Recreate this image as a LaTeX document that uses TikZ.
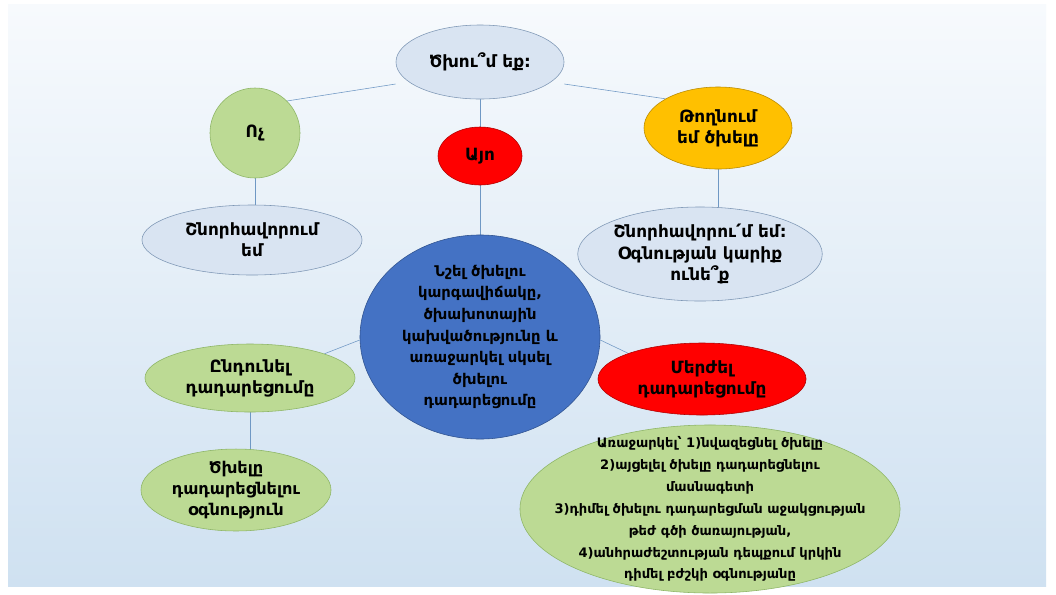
\documentclass[tikz,border=0pt]{standalone}
\usepackage{fontspec}
\setmainfont{DejaVu Sans}
\usepackage{tikz}
\usetikzlibrary{shapes.geometric,backgrounds}

\definecolor{bgtop}{HTML}{F7FAFD}
\definecolor{bgbot}{HTML}{CFE1F1}
\definecolor{paleblue}{HTML}{D9E4F2}
\definecolor{paleline}{HTML}{7E97B5}
\definecolor{leaf}{HTML}{BCDA94}
\definecolor{leafline}{HTML}{8DB565}
\definecolor{alarm}{HTML}{FF0000}
\definecolor{alarmline}{HTML}{B00000}
\definecolor{amber}{HTML}{FFC000}
\definecolor{amberline}{HTML}{B88A00}
\definecolor{deepblue}{HTML}{4472C4}
\definecolor{deepline}{HTML}{2F528F}
\definecolor{wire}{HTML}{6F98C4}

\begin{document}
\begin{tikzpicture}[x=0.025cm,y=-0.025cm,
  every node/.style={font=\bfseries\fontsize{12}{15}\selectfont, align=center, inner sep=0pt},
  oval/.style={ellipse, draw, thin},
  bluebox/.style={oval, fill=paleblue, draw=paleline},
  greenbox/.style={oval, fill=leaf, draw=leafline},
  redbox/.style={oval, fill=alarm, draw=alarmline},
  link/.style={wire, thin}]

\useasboundingbox (0,0) rectangle (1056,594);

% nodes
\node[bluebox, minimum width=4.2cm, minimum height=1.85cm] (ask) at (480,62) {Ծխու՞մ եք:};
\node[greenbox, circle, minimum size=2.25cm] (no) at (255,133) {Ոչ};
\node[redbox, minimum width=2.1cm, minimum height=1.45cm] (yes) at (480,156) {Այո};
\node[oval, fill=amber, draw=amberline, minimum width=3.7cm, minimum height=2.05cm] (quit) at (718,128) {Թողնում\\եմ ծխելը};

\node[bluebox, minimum width=5.5cm, minimum height=1.75cm] (congr) at (252,240) {Շնորհավորում\\եմ};
\node[bluebox, minimum width=6cm, minimum height=2.35cm] (help) at (700,254) {Շնորհավորու՛մ եմ:\\Օգնության կարիք\\ունե՞ք};

\node[oval, fill=deepblue, draw=deepline, minimum width=6cm, minimum height=5.1cm] (state) at (480,337) {};
\node[font=\bfseries\fontsize{10.5}{15.4}\selectfont] (statetext) at (state.center)
  {Նշել ծխելու\\կարգավիճակը,\\ծխախոտային\\կախվածությունը և\\առաջարկել սկսել\\ծխելու\\դադարեցումը};

\node[greenbox, minimum width=5.25cm, minimum height=1.7cm] (accept) at (250,378) {Ընդունել\\դադարեցումը};
\node[redbox, minimum width=5.2cm, minimum height=1.8cm] (reject) at (702,379) {Մերժել\\դադարեցումը};
\node[greenbox, minimum width=4.75cm, minimum height=1.85cm, font=\bfseries\fontsize{11.5}{15}\selectfont] (aid) at (236,490) {Ծխելը\\դադարեցնելու\\օգնություն};

\node[greenbox, minimum width=9.5cm, minimum height=4.2cm] (offer) at (710,509) {};
\node[font=\bfseries\fontsize{9.3}{15.6}\selectfont] (offertext) at (offer.center)
  {Առաջարկել՝ 1)նվազեցնել ծխելը\\2)այցելել ծխելը դադարեցնելու\\մասնագետի\\3)դիմել ծխելու դադարեցման աջակցության\\թեժ գծի ծառայության,\\4)անհրաժեշտության դեպքում կրկին\\դիմել բժշկի օգնությանը};

\begin{scope}[on background layer]
% background
\fill[white] (0,0) rectangle (1056,594);
\shade[top color=bgtop, bottom color=bgbot] (8,4) rectangle (1046,586);
% connectors
\draw[link] (ask.west) ++(0,22) coordinate (askw) -- (no.north east);
\draw[link] (ask.east) ++(0,22) coordinate (aske) -- (quit.north west);
\draw[link] (ask) -- (yes);
\draw[link] (no) -- (no |- congr.north);
\draw[link] (yes) -- (state);
\draw[link] (quit.south) -- (quit.south |- help.north);
\draw[link] (state.west) ++(0,3) coordinate (stw) -- (accept.north east);
\draw[link] (state.east) ++(0,3) coordinate (ste) -- (reject.north west);
\draw[link] (accept.south) -- (accept.south |- aid.north);
\end{scope}
\end{tikzpicture}
\end{document}
